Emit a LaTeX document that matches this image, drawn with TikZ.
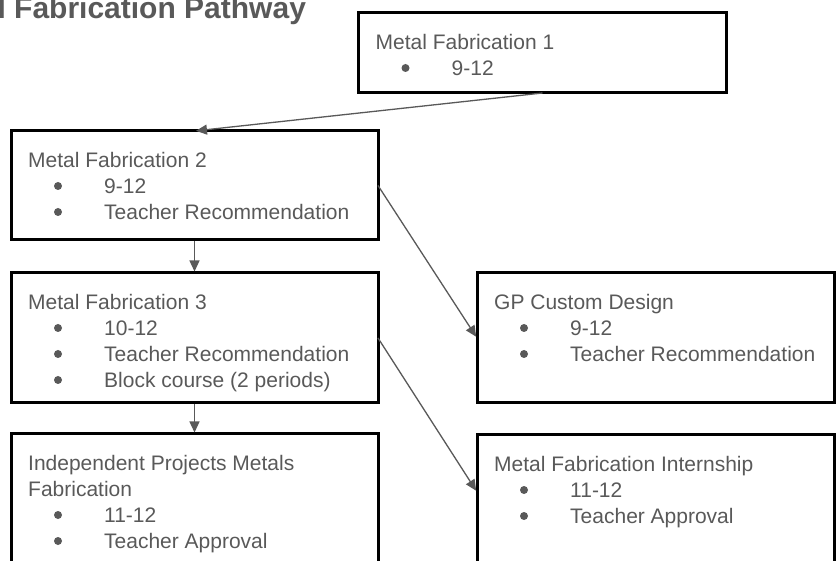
\documentclass[tikz,border=0pt]{standalone}
\usepackage{fontspec}
\setmainfont{Liberation Sans}
\usetikzlibrary{calc,arrows.meta}
\definecolor{txtgray}{HTML}{595959}
\newcommand{\boxtitle}[4]{\node[ttl] (#1) at ($(#2.north west)+(17,{36.5+26*#3})$) {#4};}
\newcommand{\boxitem}[4]{%
  \node[bul] (#1b) at ($(#2.north west)+(47,{29+26*#3})$) {};
  \node[ttl] (#1) at ($(#2.north west)+(93,{36.5+26*#3})$) {#4};}
\begin{document}
\begin{tikzpicture}[x=1pt,y=-1pt,
  box/.style={draw=black,line width=3pt,rectangle,inner sep=0pt,outer sep=0pt,anchor=north west},
  ttl/.style={anchor=base west,inner sep=0pt,text=txtgray,font=\fontsize{21}{25}\selectfont},
  bul/.style={circle,fill=txtgray,inner sep=0pt,minimum size=8pt},
  conn/.style={draw=txtgray,line width=1.3pt,-{Triangle[length=11pt,width=10pt]}}]
\useasboundingbox (0,0) rectangle (836,561);
\clip (0,0) rectangle (836,561);
\node[anchor=base west,inner sep=0pt,text=txtgray,font=\fontsize{30}{34}\selectfont\bfseries] (title) at (-71,19) {Metal Fabrication Pathway};
% boxes
\node[box,minimum width=368pt,minimum height=80pt] (mf1) at (358.5,13) {};
\node[box,minimum width=367pt,minimum height=109pt] (mf2) at (11,131) {};
\node[box,minimum width=367pt,minimum height=130pt] (mf3) at (11,273) {};
\node[box,minimum width=367pt,minimum height=190pt] (ipmf) at (11,434) {};
\node[box,minimum width=357.5pt,minimum height=130pt] (gp) at (477,273) {};
\node[box,minimum width=357.5pt,minimum height=190pt] (mfi) at (477,435) {};
% texts
\boxtitle{mf1t}{mf1}{0}{Metal Fabrication 1}
\boxitem{mf1a}{mf1}{1}{9-12}
\boxtitle{mf2t}{mf2}{0}{Metal Fabrication 2}
\boxitem{mf2a}{mf2}{1}{9-12}
\boxitem{mf2c}{mf2}{2}{Teacher Recommendation}
\boxtitle{mf3t}{mf3}{0}{Metal Fabrication 3}
\boxitem{mf3a}{mf3}{1}{10-12}
\boxitem{mf3c}{mf3}{2}{Teacher Recommendation}
\boxitem{mf3d}{mf3}{3}{Block course (2 periods)}
\boxtitle{ipmft}{ipmf}{0}{Independent Projects Metals}
\boxtitle{ipmfu}{ipmf}{1}{Fabrication}
\boxitem{ipmfa}{ipmf}{2}{11-12}
\boxitem{ipmfc}{ipmf}{3}{Teacher Approval}
\boxtitle{gpt}{gp}{0}{GP Custom Design}
\boxitem{gpa}{gp}{1}{9-12}
\boxitem{gpc}{gp}{2}{Teacher Recommendation}
\boxtitle{mfit}{mfi}{0}{Metal Fabrication Internship}
\boxitem{mfia}{mfi}{1}{11-12}
\boxitem{mfic}{mfi}{2}{Teacher Approval}
% connectors
\coordinate (mfiin) at ($(mfi.north west)+(0,57)$);
\draw[conn,shorten >=1.5pt] (mf1.south) -- (mf2.north);
\draw[conn,shorten >=1.5pt,shorten <=1.5pt] (mf2.south) -- (mf3.north);
\draw[conn,shorten >=1.5pt,shorten <=1.5pt] (mf3.south) -- (ipmf.north);
\draw[conn,shorten >=1.5pt] (mf2.east) -- (gp.west);
\draw[conn,shorten >=1.5pt] (mf3.east) -- (mfiin);
\end{tikzpicture}
\end{document}
